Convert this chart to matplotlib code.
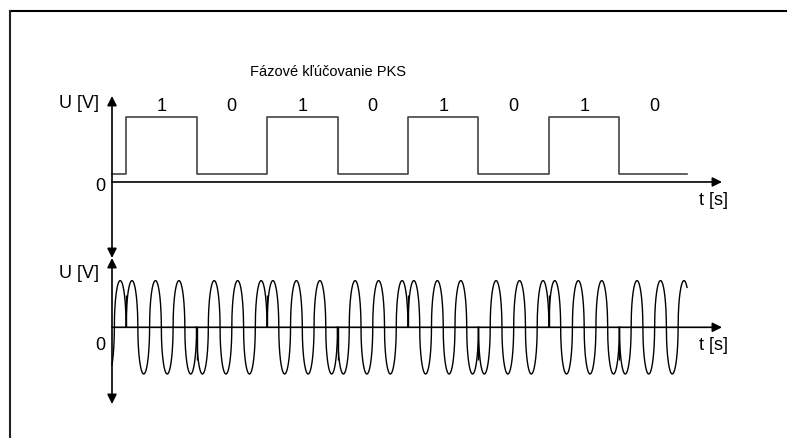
import numpy as np
import matplotlib
matplotlib.use("Agg")
from matplotlib import pyplot as plt

plt.rcParams['font.family'] = ['Liberation Sans', 'DejaVu Sans']

# data
bits = [1, 0, 1, 0, 1, 0, 1, 0]
lead_bit = 0
t_start = -0.2
t_end = 7.96
cycles_per_bit = 3
title = 'Fázové kľúčovanie PKS'
y_label = 'U [V]'
x_label = 't [s]'

W, H = 787, 439
BIT_PX = 70.47
X0_PX = 112          # pixel of the vertical axes
FS = 13
fig = plt.figure(figsize=(W / 100, H / 100), dpi=100)


def add_panel(y_top_px, y_bot_px, zero_px, unit_px):
    ax = fig.add_axes([0, 1 - y_bot_px / H, 1, (y_bot_px - y_top_px) / H])
    left = t_start - X0_PX / BIT_PX
    ax.set_xlim(left, left + W / BIT_PX)
    ax.set_ylim((zero_px - y_bot_px) / unit_px, (zero_px - y_top_px) / unit_px)
    ax.axis('off')
    return ax


def ellipse_wave(theta):
    # half-ellipse humps, looks like the drawn carrier
    ph = np.mod(theta, 2 * np.pi)
    half = ph < np.pi
    u = np.where(half, ph / np.pi, (ph - np.pi) / np.pi) * 2 - 1
    val = np.sqrt(np.clip(1 - u ** 2, 0, None))
    return np.where(half, val, -val)


def axis_arrow(ax, p_from, p_to, style):
    ax.annotate('', xy=p_to, xytext=p_from,
                arrowprops=dict(arrowstyle=style + ',head_length=0.8,head_width=0.4',
                                color='black', lw=1.2, mutation_scale=7,
                                shrinkA=0, shrinkB=0))


ax1 = add_panel(60, 260, 175, 57)
ax2 = add_panel(240, 420, 328.3, 46.7)
x_arrow_end = (722 - X0_PX) / BIT_PX + t_start
x_lbl = (699 - X0_PX) / BIT_PX + t_start

# --- top: data signal
xs = [t_start] + list(range(len(bits))) + [t_end]
ys = [lead_bit] + bits + [bits[-1]]
ax1.step(xs, ys, where='post', color='#444444', lw=1.2)
for i, b in enumerate(bits):
    ax1.text(i + 0.5, 1.2, str(b), ha='center', va='center', fontsize=FS)
axis_arrow(ax1, (t_start, -0.14), (x_arrow_end, -0.14), '-|>')
axis_arrow(ax1, (t_start, (175 - 259) / 57), (t_start, (175 - 97) / 57), '<|-|>')
ax1.text(t_start - 0.19, 1.25, y_label, ha='right', va='center', fontsize=FS)
ax1.text(t_start - 0.1, -0.2, '0', ha='right', va='center', fontsize=FS)
ax1.text(x_lbl, -0.45, x_label, ha='left', va='center', fontsize=FS)
ax1.text(2.87, 1.81, title, ha='center', va='center', fontsize=10.5)

# --- bottom: PSK carrier
all_bits = [lead_bit] + bits
for k, b in enumerate(all_bits):
    s = k - 1
    a = max(s, t_start)
    e = min(s + 1, t_end)
    t = np.linspace(a, e, 600)
    sign = 1 if b == 1 else -1
    ax2.plot(t, sign * ellipse_wave(2 * np.pi * cycles_per_bit * (t - s)),
             color='black', lw=1.0)
    if k > 0 and b != all_bits[k - 1]:
        ax2.vlines(s, 0, 0.7 * sign, color='black', lw=1.0)
axis_arrow(ax2, (t_start, 0), (x_arrow_end, 0), '-|>')
axis_arrow(ax2, (t_start, (328.3 - 405) / 46.7), (t_start, (328.3 - 259) / 46.7), '<|-|>')
ax2.text(t_start - 0.19, 1.18, y_label, ha='right', va='center', fontsize=FS)
ax2.text(t_start - 0.1, -0.36, '0', ha='right', va='center', fontsize=FS)
ax2.text(x_lbl, -0.36, x_label, ha='left', va='center', fontsize=FS)

# frame lines (top and left only)
fig.add_artist(plt.Line2D([9.5 / W, 1], [1 - 11.5 / H, 1 - 11.5 / H], color='black', lw=1.5))
fig.add_artist(plt.Line2D([9.5 / W, 9.5 / W], [0, 1 - 11.5 / H], color='#222222', lw=1.5))

fig.savefig('out.png', dpi=100)
